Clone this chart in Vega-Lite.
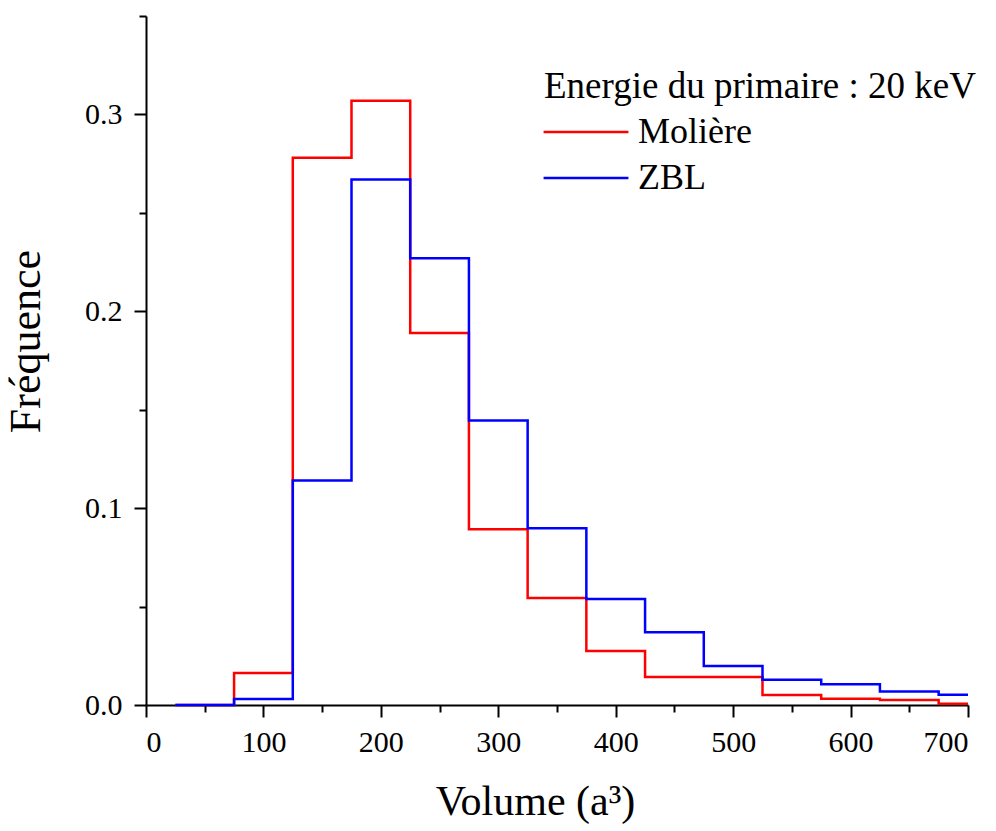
{
  "$schema": "https://vega.github.io/schema/vega-lite/v6.json",
  "width": 822,
  "height": 689,
  "autosize": {"type": "none"},
  "padding": {"left": 146, "top": 16, "right": 28, "bottom": 126},
  "background": "white",
  "config": {
    "view": {"stroke": null},
    "font": "Liberation Serif",
    "axis": {
      "grid": false,
      "domainColor": "black",
      "domainWidth": 2,
      "tickColor": "black",
      "tickWidth": 2,
      "labelColor": "black",
      "titleColor": "black",
      "labelFont": "Liberation Serif",
      "titleFont": "Liberation Serif",
      "titleFontWeight": "normal",
      "labelFontSize": 30,
      "titleFontSize": 42
    },
    "legend": {
      "labelFont": "Liberation Serif",
      "titleFont": "Liberation Serif"
    }
  },
  "data": {
    "values": [
      {"x": 25, "y": 0, "series": "Molière"},
      {"x": 75, "y": 0.0162, "series": "Molière"},
      {"x": 125, "y": 0.278, "series": "Molière"},
      {"x": 175, "y": 0.307, "series": "Molière"},
      {"x": 225, "y": 0.189, "series": "Molière"},
      {"x": 275, "y": 0.0893, "series": "Molière"},
      {"x": 325, "y": 0.0543, "series": "Molière"},
      {"x": 375, "y": 0.0274, "series": "Molière"},
      {"x": 425, "y": 0.0142, "series": "Molière"},
      {"x": 475, "y": 0.0142, "series": "Molière"},
      {"x": 525, "y": 0.0051, "series": "Molière"},
      {"x": 575, "y": 0.0032, "series": "Molière"},
      {"x": 625, "y": 0.0025, "series": "Molière"},
      {"x": 675, "y": 0.0006, "series": "Molière"},
      {"x": 700, "y": 0.0006, "series": "Molière"},
      {"x": 25, "y": 0, "series": "ZBL"},
      {"x": 75, "y": 0.003, "series": "ZBL"},
      {"x": 125, "y": 0.114, "series": "ZBL"},
      {"x": 175, "y": 0.267, "series": "ZBL"},
      {"x": 225, "y": 0.227, "series": "ZBL"},
      {"x": 275, "y": 0.1445, "series": "ZBL"},
      {"x": 325, "y": 0.0898, "series": "ZBL"},
      {"x": 375, "y": 0.0538, "series": "ZBL"},
      {"x": 425, "y": 0.037, "series": "ZBL"},
      {"x": 475, "y": 0.0198, "series": "ZBL"},
      {"x": 525, "y": 0.0128, "series": "ZBL"},
      {"x": 575, "y": 0.0105, "series": "ZBL"},
      {"x": 625, "y": 0.0069, "series": "ZBL"},
      {"x": 675, "y": 0.0052, "series": "ZBL"},
      {"x": 700, "y": 0.0052, "series": "ZBL"}
    ]
  },
  "resolve": {"axis": {"x": "independent", "y": "independent"}},
  "layer": [
    {
      "mark": {"type": "line", "strokeOpacity": 0, "interpolate": "step-after"},
      "encoding": {
        "x": {
          "field": "x", "type": "quantitative",
          "scale": {"domain": [0, 700], "nice": false, "zero": false},
          "axis": {"orient": "bottom", "values": [50, 150, 250, 350, 450, 550, 650], "tickSize": 7, "labels": false, "domain": false, "title": null}
        },
        "y": {
          "field": "y", "type": "quantitative",
          "scale": {"domain": [0, 0.35], "nice": false},
          "axis": {"orient": "left", "values": [0.05, 0.15, 0.25, 0.35], "tickSize": 7, "labels": false, "domain": false, "title": null}
        },
        "detail": {"field": "series"}
      }
    },
    {
      "mark": {"type": "line", "strokeWidth": 2.5, "interpolate": "step-after"},
      "encoding": {
        "x": {
          "field": "x", "type": "quantitative",
          "scale": {"domain": [0, 700], "nice": false, "zero": false},
          "axis": {"orient": "bottom", "values": [0, 100, 200, 300, 400, 500, 600, 700], "tickSize": 12, "labelPadding": 10, "title": "Volume (a³)", "titlePadding": 24, "titleX": 389}
        },
        "y": {
          "field": "y", "type": "quantitative",
          "scale": {"domain": [0, 0.35], "nice": false},
          "axis": {"orient": "left", "values": [0, 0.1, 0.2, 0.3], "format": ".1f", "tickSize": 12, "labelPadding": 12, "title": "Fréquence", "titleFontSize": 44, "titlePadding": 36, "titleY": 325}
        },
        "color": {
          "field": "series", "type": "nominal",
          "scale": {"domain": ["Molière", "ZBL"], "range": ["#ff0000", "#0000ff"]},
          "legend": {
            "orient": "none",
            "legendX": 398,
            "legendY": 53,
            "title": "Energie du primaire : 20 keV",
            "titleLimit": 800,
            "titleFontSize": 37,
            "titleFontWeight": "normal",
            "titleColor": "black",
            "titlePadding": 8,
            "labelFontSize": 36,
            "labelColor": "black",
            "labelOffset": 34,
            "symbolOffset": 24,
            "symbolType": "M-4,0H4",
            "symbolSize": 450,
            "symbolStrokeWidth": 2.5,
            "rowPadding": 10
          }
        }
      }
    }
  ]
}
